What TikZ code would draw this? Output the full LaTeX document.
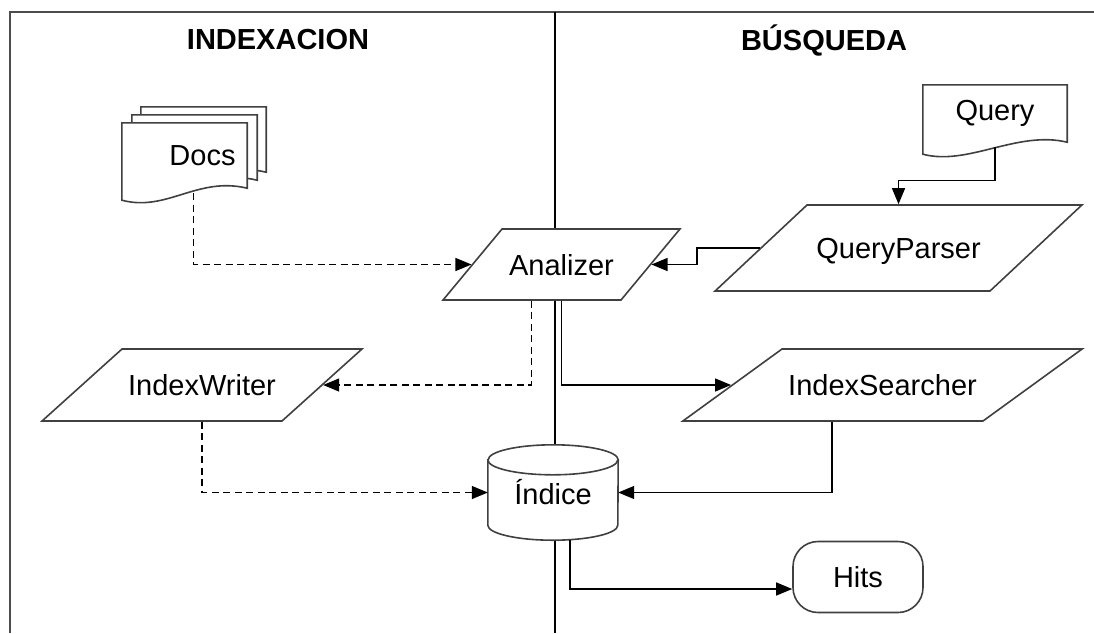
\documentclass[tikz,border=0pt]{standalone}
\usepackage{fontspec}
\setmainfont{Liberation Sans}
\usetikzlibrary{shapes.geometric,calc,arrows.meta,backgrounds}

\tikzset{
    shapeline/.style={draw=black!75, line width=1.6pt},
    io/.style={trapezium, shapeline, fill=white, inner sep=0pt, align=center},
    docbox/.style={minimum width=125pt, minimum height=65pt, inner sep=0pt},
    flow/.style={line width=1.3pt, -{Triangle[length=16pt,width=13pt]}},
    dflow/.style={flow, dash pattern=on 7pt off 4.5pt},
}

% outline of a document sheet with wavy bottom
\newcommand\docoutline[1]{%
    \draw[shapeline, fill=white] ($(#1.south west)+(0,12)$) -- (#1.north west) -- (#1.north east) -- (#1.south east)
        .. controls ($(#1.south east)+(-50,-12)$) and ($(#1.south west)+(45,24)$) .. ($(#1.south west)+(0,12)$) -- cycle;}

\begin{document}
\begin{tikzpicture}[x=1pt, y=-1pt, font=\fontsize{29}{34}\selectfont]
    \useasboundingbox (0,0) rectangle (1094,633);

    % Headers
    \node (indexhead) at (278,40) {\bfseries INDEXACION};
    \node (searchhead) at (824,40) {\bfseries BÚSQUEDA};

    % Nodes for the indexing side
    \node[docbox] (docsc) at (203.5,139.5) {};
    \node[docbox] (docsb) at (194.5,147.5) {};
    \node[docbox] (docs) at (184.5,155.5) {\hspace*{36pt}Docs};
    \node[io, trapezium left angle=42, trapezium right angle=138,
          text width=160pt, text height=46.5pt, text depth=25.5pt] (iw) at (202,385) {IndexWriter};

    % Nodes for the middle
    \node[io, trapezium left angle=50.3, trapezium right angle=129.7,
          text width=119pt, text height=46pt, text depth=25pt] (an) at (561.5,264.5) {Analizer};
    \node[minimum width=130pt, minimum height=95pt, inner sep=0pt] (idx) at (553,492.5) {Índice};

    % Nodes for the search side
    \node[docbox, minimum width=144pt, minimum height=57pt] (query) at (995,113.5) {Query};
    \node[io, trapezium left angle=43.1, trapezium right angle=136.9,
          text width=183pt, text height=53.5pt, text depth=32.5pt] (qp) at (898.5,248) {QueryParser};
    \node[io, trapezium left angle=36, trapezium right angle=144,
          text width=201pt, text height=46.5pt, text depth=25.5pt] (is) at (882.5,385) {IndexSearcher};
    \node[shapeline, fill=white, rounded corners=25pt, minimum width=130pt, minimum height=71pt] (hits) at (858,577) {Hits};

    % Frame, sheets and cylinder behind the nodes
    \begin{scope}[on background layer]
        \draw[draw=black!70, line width=2pt] (1094,12) -- (10,12) -- (10,633);
        \draw[line width=1.3pt] (555,12) -- (555,633);
        \docoutline{docsc}
        \docoutline{docsb}
        \docoutline{docs}
        \docoutline{query}
        \draw[shapeline, fill=white] (idx.north west) ++(0,15) -- ($(idx.south west)+(0,-15)$)
            arc[start angle=180, end angle=360, x radius=65pt, y radius=15pt] -- ($(idx.north east)+(0,15)$)
            arc[start angle=0, end angle=180, x radius=65pt, y radius=15pt] -- cycle;
        \draw[shapeline] ($(idx.north west)+(0,15)$) arc[start angle=180, end angle=360, x radius=65pt, y radius=15pt];
    \end{scope}

    % Indexing flow
    \draw[dflow] ($(docs.south)+(9,5)$) |- (an.left side);
    \draw[dflow] (an.bottom side) |- (iw.right side);
    \draw[dflow] (iw.south) |- (idx.west);

    % Search flow
    \draw[flow] ($(query.south)+(0,5)$) -- ++(0,33) -| (qp.north);
    \draw[flow] (qp.left side) -- ++(-63,0) |- (an.right side);
    \draw[flow] (an.south) |- (is.left side);
    \draw[flow] (is.bottom side) |- (idx.east);
    \draw[flow] ($(idx.south)+(17,0)$) |- ($(hits.west)+(0,12)$);
\end{tikzpicture}
\end{document}
